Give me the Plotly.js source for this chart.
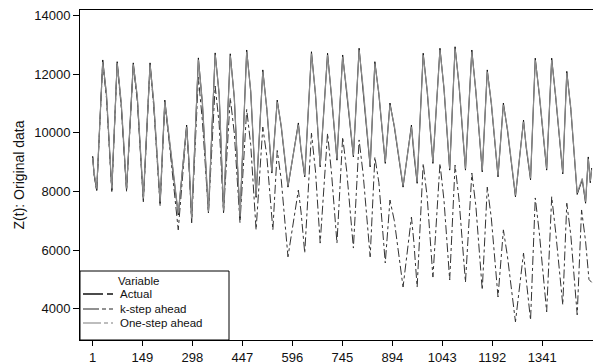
<!DOCTYPE html>
<html>
<head>
<meta charset="utf-8">
<script src="https://cdn.plot.ly/plotly-3.0.1.min.js"></script>
<style>
html,body{margin:0;padding:0;overflow:hidden;background:#fff;}
#chart{width:600px;height:364px;}
</style>
</head>
<body>
<div id="chart"></div>
<script>
// Time index values and series
var actualX = [1,5,13,31,42,58,74,86,102,122,134,152,172,183,202,216,228,256,281,288,296,316,328,346,366,378,391,411,423,440,460,472,488,508,520,535,551,563,583,614,622,633,653,665,679,701,713,729,746,758,778,795,807,828,842,854,873,887,900,926,951,958,968,986,998,1015,1036,1048,1065,1081,1093,1112,1131,1143,1162,1177,1189,1209,1225,1237,1261,1285,1293,1306,1320,1332,1354,1369,1381,1402,1414,1426,1445,1460,1470,1478,1484,1488];
var actualY = [9200,8600,8050,12490,11300,8050,12430,11000,8050,12390,11200,7710,12390,11000,7600,11120,9900,7200,10270,9000,7030,12560,11000,7270,12730,11300,7300,12700,11200,7100,12830,11400,7800,12150,10800,8630,11120,10200,8150,10340,9400,8500,12770,11300,8840,12720,11200,9070,12660,11400,9180,12890,11500,8840,12430,11300,8960,11020,10200,8150,10270,9300,8280,12720,11400,8960,12890,11500,8730,12940,11600,8730,12830,11400,8670,12150,11000,8500,11020,10100,7820,10440,9500,8400,12550,11300,8730,12550,11200,8600,12100,10800,7900,8400,7600,9180,8300,8800];

var kstepX = [1,5,13,31,42,58,74,86,102,122,134,152,172,183,202,216,228,256,281,288,296,316,328,346,366,378,391,411,423,440,460,472,488,508,520,538,551,563,583,614,622,633,653,665,679,701,713,729,746,758,778,795,807,828,842,854,873,887,900,926,951,958,968,986,998,1015,1036,1048,1065,1081,1093,1112,1131,1143,1162,1177,1189,1209,1225,1237,1261,1285,1293,1306,1320,1332,1354,1369,1381,1402,1414,1426,1445,1458,1470,1480,1488];
var kstepY = [9200,8600,8000,12400,11200,8000,12350,10900,8000,12300,11100,7650,12300,10900,7500,11000,9800,6690,10200,8900,6930,11900,10400,7270,11600,10300,7270,11200,10000,6930,10800,9600,6690,10200,9200,6690,9400,8400,5770,8050,7300,5900,9990,8700,6240,9990,8600,6240,9860,8700,6070,9760,8600,5770,9180,8300,5560,7710,7000,4740,7130,6300,4740,8960,7800,5080,8960,7700,4980,8900,7700,4900,8630,7500,4640,8150,7100,4400,6690,5800,3550,5900,5000,3610,7780,6600,3890,7820,6600,4130,7600,6500,3790,7370,6300,5000,4900];

var onestepX = [1,5,13,31,42,58,74,86,102,122,134,152,172,183,202,216,228,256,281,288,296,316,328,346,366,378,391,411,423,440,460,472,488,508,520,535,551,563,583,614,622,633,653,665,679,701,713,729,746,758,778,795,807,828,842,854,873,887,900,926,951,958,968,986,998,1015,1036,1048,1065,1081,1093,1112,1131,1143,1162,1177,1189,1209,1225,1237,1261,1285,1293,1306,1320,1332,1354,1369,1381,1402,1414,1426,1445,1460,1470,1478,1484,1488];
var onestepY = [9150,8650,8100,12420,11350,8100,12380,11050,8100,12340,11250,7760,12330,11050,7650,11060,9950,7250,10210,9050,7080,12500,11050,7320,12670,11350,7350,12640,11250,7150,12770,11450,7850,12090,10850,8680,11060,10250,8200,10280,9450,8550,12710,11350,8890,12660,11250,9120,12600,11450,9230,12830,11550,8890,12370,11350,9010,10960,10250,8200,10210,9350,8330,12660,11450,9010,12830,11550,8780,12880,11650,8780,12770,11450,8720,12090,11050,8550,10960,10150,7870,10380,9550,8450,12490,11350,8780,12490,11250,8650,12040,10850,7950,8450,7650,9120,8350,8750];

var xTickVals = [1,149,298,447,596,745,894,1043,1192,1341];
var yTickVals = [4000,6000,8000,10000,12000,14000];

var seriesNames = ["Actual","k-step ahead","One-step ahead"];
var legendTitle = "Variable";

var lineStyles = [
  {color: "#111111", width: 1},
  {color: "#333333", width: 1, dash: "dashdot"},
  {color: "#8a8a8a", width: 1.2}
];
var legendStyles = [
  {color: "#111111", width: 1.3, dash: "20px,4px,6px,30px"},
  {color: "#6e6e6e", width: 1.5, dash: "16px,3px,4px,3px,4px,30px"},
  {color: "#a8a8a8", width: 1.5, dash: "18px,3px,4px,3px,4px,30px"}
];

var traces = [
  {x: actualX, y: actualY, name: seriesNames[0], type: "scatter", mode: "lines", line: lineStyles[0]},
  {x: kstepX, y: kstepY, name: seriesNames[1], type: "scatter", mode: "lines", line: lineStyles[1]},
  {x: onestepX, y: onestepY, name: seriesNames[2], type: "scatter", mode: "lines", line: lineStyles[2]}
];

var font = "Liberation Sans, Arial, sans-serif";

// custom legend box in paper coordinates (plot area 517 x 330 px)
var plotW = 517, plotH = 330;
function px(v){ return v / plotW; }
function py(v){ return v / plotH; }
var shapes = [{
  type: "rect", xref: "paper", yref: "paper",
  x0: 0, x1: px(149), y0: 0, y1: py(69),
  line: {color: "#000", width: 1}, fillcolor: "#fff", layer: "above"
}];
var annotations = [{
  xref: "paper", yref: "paper", x: px(58), y: py(59), text: legendTitle,
  showarrow: false, xanchor: "center", yanchor: "middle",
  font: {family: font, size: 11.5, color: "#111"}
}];
var rowY = [46, 31, 17];
for (var i = 0; i < seriesNames.length; i++) {
  shapes.push({
    type: "line", xref: "paper", yref: "paper",
    x0: px(3), x1: px(33), y0: py(rowY[i]), y1: py(rowY[i]),
    line: legendStyles[i], layer: "above"
  });
  annotations.push({
    xref: "paper", yref: "paper", x: px(38), y: py(rowY[i]), text: seriesNames[i],
    showarrow: false, xanchor: "left", yanchor: "middle",
    font: {family: font, size: 11.5, color: "#111"}
  });
}

var layout = {
  width: 600, height: 364,
  margin: {l: 80, r: 3, t: 10, b: 24},
  paper_bgcolor: "#ffffff", plot_bgcolor: "#ffffff",
  font: {family: font, size: 13, color: "#111"},
  showlegend: false,
  shapes: shapes,
  annotations: annotations,
  xaxis: {
    range: [-36.8, 1504], tickvals: xTickVals, ticktext: xTickVals.map(String),
    showgrid: false, zeroline: false, showline: true, mirror: true,
    linecolor: "#000", linewidth: 1, ticks: "outside", ticklen: 5, tickcolor: "#000",
    tickfont: {family: font, size: 13}
  },
  yaxis: {
    range: [2932, 14195], tickvals: yTickVals, ticktext: yTickVals.map(String),
    showgrid: false, zeroline: false, showline: true, mirror: true,
    linecolor: "#000", linewidth: 1, ticks: "outside", ticklen: 6, tickcolor: "#000",
    tickfont: {family: font, size: 13},
    title: {text: "Z(t): Original data", font: {family: font, size: 14}, standoff: 6}
  }
};

Plotly.newPlot("chart", traces, layout, {displayModeBar: false, staticPlot: true});
</script>
</body>
</html>
